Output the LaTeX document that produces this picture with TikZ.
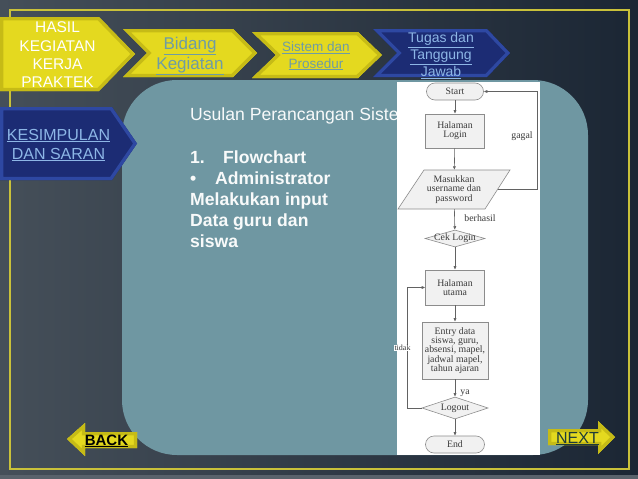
\documentclass[tikz,border=0pt]{standalone}
\usepackage{fontspec}
\setmainfont{Liberation Sans}
\newfontfamily\fcfont{Liberation Serif}
\usetikzlibrary{arrows.meta,calc,shapes.geometric}
\definecolor{bgL}{HTML}{454F59}
\definecolor{bgR}{HTML}{1B2634}
\definecolor{stripc}{HTML}{59626B}
\definecolor{frameY}{HTML}{C9C13A}
\definecolor{chevY}{HTML}{E4D91F}
\definecolor{chevYedge}{HTML}{C6BB16}
\definecolor{chevB}{HTML}{1C2C74}
\definecolor{chevBedge}{HTML}{2E48A2}
\definecolor{panel}{HTML}{6F97A2}
\definecolor{linkteal}{HTML}{6E9CA4}
\definecolor{linkblue}{HTML}{8DB6E6}
\definecolor{fcline}{HTML}{8C8C8C}
\definecolor{fcfill}{HTML}{F1F1F1}
\definecolor{fctext}{HTML}{3A3A3A}
\definecolor{nextc}{HTML}{1E3B3A}
\newcommand\bevelshape[3]{\fill[#1] #3; \begin{scope}\clip #3; \draw[#2, line width=6.5pt, line join=miter] #3; \end{scope}}
\newcommand\fcf{\fcfont\fontsize{9.8}{9.3}\selectfont}
\begin{document}
\begin{tikzpicture}[x=1pt,y=-1pt,
  chevtxt/.style={align=center, inner sep=0},
  fcshape/.style={draw=fcline, fill=fcfill, line width=0.6pt},
  fctxt/.style={font=\fcf, text=fctext, align=center, inner sep=0},
  fcarrow/.style={draw=fcline!70!black, line width=0.6pt, -{Latex[length=3.5pt,width=3.2pt]}},
  bodytxt/.style={text=white!95!panel, inner sep=0, anchor=base west, font=\fontsize{17.6}{20}\selectfont},
  bodybold/.style={bodytxt, font=\fontsize{17.6}{20}\selectfont\bfseries}]
\useasboundingbox (0,0) rectangle (638,479);
\shade[left color=bgL, right color=bgR] (0,0) rectangle (638,479);
\fill[stripc] (0,475) rectangle (638,479);
\draw[frameY, line width=1.5pt] (10,10) rectangle (629,469);
% panel
\fill[panel, rounded corners=55pt] (122,80) rectangle (588,455);
% chevrons
\bevelshape{chevY}{chevYedge}{(0,17) -- (99,17) -- (135,54) -- (99,91) -- (0,91) -- cycle}
\bevelshape{chevY}{chevYedge}{(123,29) -- (233,29) -- (257,53) -- (233,77) -- (123,77) -- (147,53) -- cycle}
\bevelshape{chevY}{chevYedge}{(252,32) -- (358,32) -- (382,55) -- (358,78) -- (252,78) -- (276,55) -- cycle}
\bevelshape{chevB}{chevBedge}{(373,29) -- (487,29) -- (510,53) -- (487,77) -- (373,77) -- (397,53) -- cycle}
\bevelshape{chevB}{chevBedge}{(0,107) -- (112,107) -- (137,143.5) -- (112,180) -- (0,180) -- cycle}
\node[chevtxt, text=white, font=\fontsize{15.5}{18.3}\selectfont] (hasil) at (57.5,55) {HASIL\\KEGIATAN\\KERJA\\PRAKTEK};
\node[chevtxt, text=linkteal, font=\fontsize{17}{20.5}\selectfont] (bidang) at (190,56) {\underline{Bidang}\\\underline{Kegiatan}};
\node[chevtxt, text=linkteal, font=\fontsize{13.5}{16.5}\selectfont] (sistem) at (316,56) {\underline{Sistem dan}\\\underline{Prosedur}};
\node[chevtxt, text=linkblue, font=\fontsize{14}{17}\selectfont] (tugas) at (441,55.5) {\underline{Tugas dan}\\\underline{Tanggung}\\\underline{Jawab}};
\node[chevtxt, text=linkblue, font=\fontsize{16}{19}\selectfont] (kesimpulan) at (58.5,145) {\underline{KESIMPULAN}\\\underline{DAN SARAN}};
% body text
\node[bodytxt] (usulan) at (190,120) {Usulan Perancangan Sistem};
\node[bodybold] (num) at (190,163) {1.};
\node[bodybold] (flow) at (223,163) {Flowchart};
\node[bodybold] (bul) at (190,184) {•};
\node[bodybold] (admin) at (215,184) {Administrator};
\node[bodybold] (mel) at (190,205) {Melakukan input};
\node[bodybold] (data) at (190,226) {Data guru dan};
\node[bodybold] (siswa) at (190,247) {siswa};
% flowchart image
\fill[white] (397,82) rectangle (540,455);
\node[fcshape, fctxt, rounded corners=8.5pt, minimum width=57, minimum height=17] (start) at (455,91.5) {Start};
\node[fcshape, fctxt, minimum width=59, minimum height=34] (login) at (455,131) {Halaman\\Login};
\fill[fcfill] (424,170) -- (510,170) -- (485,209) -- (398,209) -- cycle;
\draw[fcline, line width=0.6pt] (424,170) -- (510,170) -- (485,209) -- (398,209) -- cycle;
\node[fctxt, minimum width=87, minimum height=39] (input) at (454,189.5) {Masukkan\\username dan\\password};
\node[fcshape, diamond, inner sep=0, minimum width=60, minimum height=17] (cek) at (455,238.5) {\fcf\color{fctext}\makebox[0pt]{Cek Login}};
\node[fcshape, fctxt, minimum width=59, minimum height=35] (main) at (455,287.5) {Halaman\\utama};
\node[fcshape, fctxt, minimum width=66, minimum height=57] (entry) at (455,350.5) {Entry data\\siswa, guru,\\absensi, mapel,\\jadwal mapel,\\tahun ajaran};
\node[fcshape, diamond, inner sep=0, minimum width=66, minimum height=22] (logout) at (455,408) {\fcf\color{fctext}\makebox[0pt]{Logout}};
\node[fcshape, fctxt, rounded corners=8.5pt, minimum width=59, minimum height=17] (end) at (455,444.5) {End};
\draw[fcarrow] (start) -- (login);
\draw[fcarrow] (login) -- (input);
\draw[fcarrow] (input) -- (cek);
\draw[fcarrow] (cek) -- (main);
\draw[fcarrow] (main) -- (entry);
\draw[fcarrow] (entry) -- (logout);
\draw[fcarrow] (logout) -- (end);
\coordinate (gR) at (537,189.5);
\draw[fcarrow] (input.east) -- (gR) |- (start.east);
\coordinate (tL) at (407,408);
\draw[fcarrow] (logout.west) -- (tL) |- (main.west);
\node[fctxt] (gagal) at (522,136) {gagal};
\node[fctxt] (berhasil) at (480,218.5) {berhasil};
\node[fctxt] (ya) at (465,393) {ya};
\node[fctxt, fill=white, inner sep=0.5pt, font=\fcfont\fontsize{8}{8}\selectfont] (tidak) at (402.5,348) {tidak};
% back / next
\bevelshape{chevY}{chevYedge}{(67,439) -- (85,423) -- (85,432) -- (137,432) -- (137,448) -- (85,448) -- (85,456) -- cycle}
\node[inner sep=0, anchor=base, font=\fontsize{15}{18}\selectfont\bfseries] (back) at (106.5,445) {\underline{BACK}};
\bevelshape{chevY}{chevYedge}{(548,429) -- (598,429) -- (598,421) -- (615,437) -- (598,454) -- (598,445) -- (548,445) -- cycle}
\node[inner sep=0, anchor=base, text=nextc, font=\fontsize{16}{18}\selectfont] (next) at (577.5,443) {\underline{NEXT}};
\end{tikzpicture}
\end{document}
